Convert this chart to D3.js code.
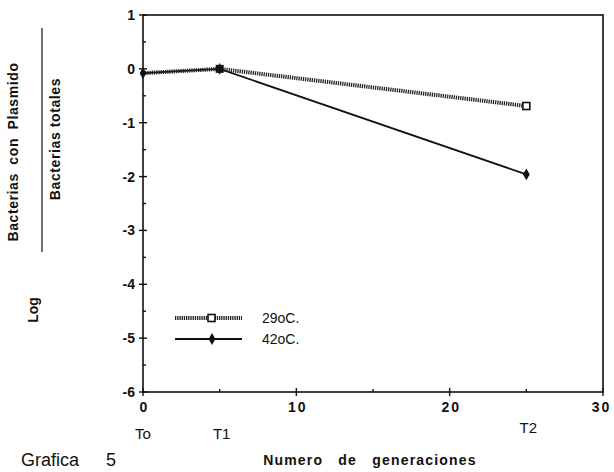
<!DOCTYPE html>
<html>
<head>
<meta charset="utf-8">
<script src="https://cdn.jsdelivr.net/npm/d3@7"></script>
<style>
  body { margin: 0; background: #fff; }
  text { font-family: "Liberation Sans", Arial, sans-serif; fill: #111; }
</style>
</head>
<body>
<div class="chart"></div>
<script>
// generations and log ratios
const generations = [0, 5, 25];
const series29 = [-0.08, 0.0, -0.69];
const series42 = [-0.08, 0.0, -1.96];
const seriesNames = ['29oC.', '42oC.'];
const timeLabels = ['To', 'T1', 'T2'];
const xTicks = [0, 10, 20, 30];
const yTicks = [1, 0, -1, -2, -3, -4, -5, -6];

const outerW = 614, outerH = 472;
const margin = { left: 143, right: 10, top: 15, bottom: 80 };

const svg = d3.select('.chart').append('svg')
  .attr('width', outerW)
  .attr('height', outerH);

const x = d3.scaleLinear().domain([0, 30]).range([margin.left, 603]);
const y = d3.scaleLinear().domain([-6, 1]).range([392, margin.top]);

const g = svg.append('g');

// frame
g.append('rect')
  .attr('x', x(0)).attr('y', y(1))
  .attr('width', x(30) - x(0)).attr('height', y(-6) - y(1))
  .attr('fill', 'none').attr('stroke', '#111').attr('stroke-width', 1.6);

// x axis ticks
const xAxis = g.append('g')
  .attr('transform', `translate(0,${y(-6)})`)
  .call(d3.axisBottom(x).tickValues(xTicks).tickSize(0).tickPadding(10).tickFormat(d3.format('d')));
xAxis.select('.domain').remove();
xAxis.selectAll('text').style('font-size', '14px').style('font-weight', 'bold')
  .attr('fill', '#111').style('letter-spacing', '2px').attr('dx', '1px');
xAxis.selectAll('.tick').filter(d => d === 30).select('text').attr('dx', '-2px');

g.append('g').selectAll('line')
  .data(d3.range(0, 31, 5))
  .enter().append('line')
  .attr('x1', d => x(d)).attr('x2', d => x(d))
  .attr('y1', d => y(-6) - (d % 10 === 0 ? 4 : 3)).attr('y2', d => y(-6) + (d % 10 === 0 ? 4 : 0))
  .attr('stroke', '#111').attr('stroke-width', 1.4);

// y axis ticks
const yAxis = g.append('g')
  .attr('transform', `translate(${x(0)},0)`)
  .call(d3.axisLeft(y).tickValues(yTicks).tickSize(0).tickPadding(8)
    .tickFormat(d => d < 0 ? '-' + Math.abs(d) : d));
yAxis.select('.domain').remove();
yAxis.selectAll('text').style('font-size', '14px').style('font-weight', 'bold').attr('fill', '#111');

g.append('g').selectAll('line')
  .data(d3.range(-6, 1.01, 0.5))
  .enter().append('line')
  .attr('x1', d => x(0) - (Number.isInteger(d) ? 4 : 0))
  .attr('x2', d => x(0) + (Number.isInteger(d) ? 4 : 3))
  .attr('y1', d => y(d)).attr('y2', d => y(d))
  .attr('stroke', '#111').attr('stroke-width', 1.4);

// time labels under x axis
g.append('g').selectAll('text')
  .data(timeLabels)
  .enter().append('text')
  .attr('x', (d, i) => x(generations[i]) + (i === 0 ? 0 : 2))
  .attr('y', (d, i) => i === 2 ? 433 : 439)
  .attr('text-anchor', 'middle')
  .style('font-size', '15px')
  .text(d => d);

const line = d3.line()
  .x((d, i) => x(generations[i]))
  .y(d => y(d));

// 42oC solid
g.append('path').datum(series42)
  .attr('d', line).attr('fill', 'none')
  .attr('stroke', '#111').attr('stroke-width', 1.8);

// 29oC hatched
g.append('path').datum(series29)
  .attr('d', line).attr('fill', 'none')
  .attr('stroke', '#222').attr('stroke-width', 4)
  .attr('stroke-dasharray', '1.3,0.9');

// markers
const diamond = d3.symbol().type(d3.symbolDiamond).size(40);
g.append('g').selectAll('path')
  .data(series42)
  .enter().append('path')
  .attr('d', diamond)
  .attr('transform', (d, i) => `translate(${x(generations[i])},${y(d)})`)
  .attr('fill', '#111');

g.append('g').selectAll('rect')
  .data(series29)
  .enter().append('rect')
  .filter((d, i) => i === 2)
  .attr('x', () => x(generations[2]) - 3.5)
  .attr('y', d => y(d) - 3.5)
  .attr('width', 7).attr('height', 7)
  .attr('fill', '#fff').attr('stroke', '#111').attr('stroke-width', 1.6);

g.append('rect')
  .attr('x', x(generations[1]) - 4).attr('y', y(series29[1]) - 4)
  .attr('width', 8).attr('height', 8).attr('fill', '#111');

// legend
const legend = g.append('g').attr('transform', 'translate(175,318)');
legend.append('line')
  .attr('x1', 0).attr('x2', 67).attr('y1', 0).attr('y2', 0)
  .attr('stroke', '#222').attr('stroke-width', 4).attr('stroke-dasharray', '1.3,0.9');
legend.append('rect')
  .attr('x', 33).attr('y', -3.5).attr('width', 7).attr('height', 7)
  .attr('fill', '#fff').attr('stroke', '#111').attr('stroke-width', 1.6);
legend.append('line')
  .attr('x1', 0).attr('x2', 67).attr('y1', 21).attr('y2', 21)
  .attr('stroke', '#111').attr('stroke-width', 1.8);
legend.append('path').attr('d', diamond).attr('transform', 'translate(37,21)').attr('fill', '#111');
legend.selectAll('text.lg')
  .data(seriesNames)
  .enter().append('text')
  .attr('x', 87).attr('y', (d, i) => 5 + i * 21)
  .style('font-size', '14px')
  .text(d => d);

// axis titles
svg.append('text')
  .attr('x', 370).attr('y', 465)
  .attr('text-anchor', 'middle')
  .style('font-size', '14px').style('font-weight', 'bold')
  .style('word-spacing', '10px').style('letter-spacing', '1.2px')
  .text('Numero de generaciones');

svg.append('text')
  .attr('transform', 'translate(18,152) rotate(-90)')
  .attr('text-anchor', 'middle')
  .style('font-size', '14px').style('font-weight', 'bold')
  .style('word-spacing', '4px').style('letter-spacing', '0.6px')
  .text('Bacterias con Plasmido');

svg.append('line')
  .attr('x1', 42).attr('x2', 42).attr('y1', 28).attr('y2', 252)
  .attr('stroke', '#111').attr('stroke-width', 1.2);

svg.append('text')
  .attr('transform', 'translate(60,139) rotate(-90)')
  .attr('text-anchor', 'middle')
  .style('font-size', '14px').style('font-weight', 'bold')
  .style('letter-spacing', '0.6px')
  .text('Bacterias totales');

svg.append('text')
  .attr('transform', 'translate(38,310) rotate(-90)')
  .attr('text-anchor', 'middle')
  .style('font-size', '14px').style('font-weight', 'bold')
  .text('Log');

svg.append('text')
  .attr('x', 21).attr('y', 466)
  .style('font-size', '18px')
  .style('word-spacing', '22px')
  .text('Grafica  5');
</script>
</body>
</html>
